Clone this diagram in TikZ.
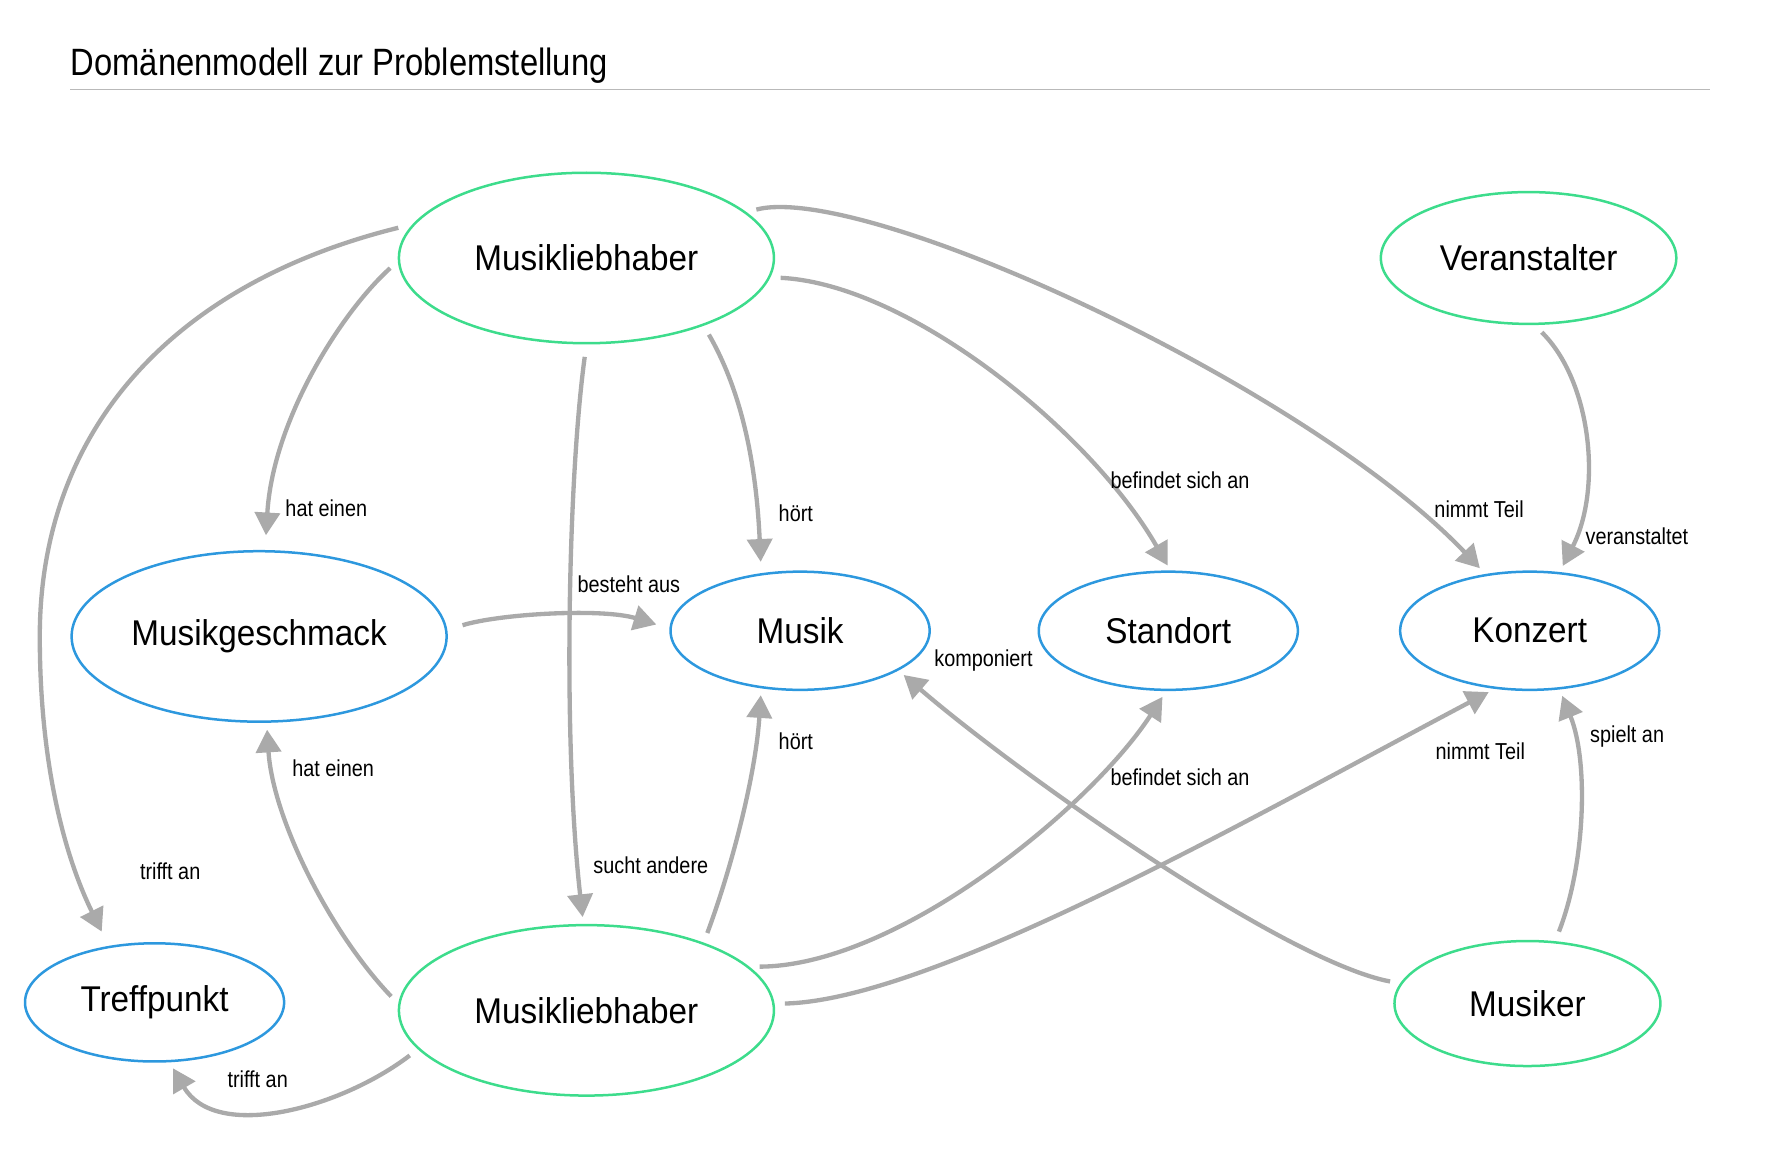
\documentclass[tikz,border=0pt]{standalone}
\usepackage{fontspec}
\setmainfont[FakeStretch=0.86]{Liberation Sans}
\newfontfamily\nodefont[FakeStretch=0.93]{Liberation Sans}
\usetikzlibrary{shapes.geometric,arrows.meta}
\definecolor{entgreen}{RGB}{61,220,140}
\definecolor{entblue}{RGB}{45,152,222}
\definecolor{edgegray}{RGB}{170,170,170}
\definecolor{rulegray}{RGB}{185,185,185}
\begin{document}
\begin{tikzpicture}[x=1pt,y=-1pt,
  ent/.style={ellipse, draw, line width=2.2pt, inner sep=0pt, font=\nodefont\fontsize{31.5}{37}\selectfont},
  actor/.style={ent, draw=entgreen},
  thing/.style={ent, draw=entblue},
  rel/.style={draw=edgegray, line width=3.8pt, -{Triangle[length=20pt,width=22pt]}, shorten <=9pt, shorten >=9pt},
  lbl/.style={anchor=west, font=\fontsize{20.3}{24}\selectfont, inner sep=0pt},
]
\useasboundingbox (0,0) rectangle (1568,1015);

% title
\node[anchor=base west, inner sep=0pt, font=\fontsize{33.5}{40}\selectfont] (title) at (62,66) {Domänenmodell zur Problemstellung};
\coordinate (ruleL) at (62,79);
\coordinate (ruleR) at (1505,79);
\draw[rulegray, line width=1.2pt] (ruleL) -- (ruleR);

% entities
\node[actor, minimum width=330pt, minimum height=150pt] (ml1) at (516,227) {Musikliebhaber};
\node[actor, minimum width=260pt, minimum height=116pt] (ver) at (1345,227) {Veranstalter};
\node[thing, minimum width=330pt, minimum height=150pt] (mg) at (228,560) {Musikgeschmack};
\node[thing, minimum width=228pt, minimum height=104pt] (mus) at (704,555) {Musik};
\node[thing, minimum width=228pt, minimum height=104pt] (std) at (1028,555) {Standort};
\node[thing, minimum width=228pt, minimum height=104pt] (kon) at (1346,555) {Konzert};
\node[thing, minimum width=228pt, minimum height=104pt] (tp) at (136,882) {Treffpunkt};
\node[actor, minimum width=330pt, minimum height=150pt] (ml2) at (516,889) {Musikliebhaber};
\node[actor, minimum width=234pt, minimum height=110pt] (mk) at (1344,883) {Musiker};

% connectors from ml1
\draw[rel, shorten >=13pt] (ml1.181) .. controls (300,275) and (240,370) .. (mg.86);
\draw[rel, shorten <=13pt, shorten >=14pt] (ml1.169) .. controls (150,250) and (35,380) .. (35,560) .. controls (35,680) and (60,760) .. (tp.129);
\draw[rel, shorten <=11pt, shorten >=6pt] (ml1.270) .. controls (500,420) and (495,650) .. (ml2.92);
\draw[rel, shorten >=10pt] (ml1.330) .. controls (650,340) and (665,400) .. (mus.124);
\draw[rel, shorten >=5pt] (ml1.354) .. controls (800,250) and (960,380) .. (std.88);
\draw[rel, shorten >=7pt] (ml1.16) .. controls (760,160) and (1150,340) .. (kon.128);
\draw[rel, shorten >=6pt] (ver.275) .. controls (1400,335) and (1410,430) .. (kon.63);
\draw[rel, shorten <=14pt, shorten >=12pt] (mg.2) .. controls (440,540) and (530,535) .. (mus.179);

% connectors from ml2
\draw[rel, shorten >=6pt] (ml2.178) .. controls (290,820) and (240,720) .. (mg.275);
\draw[rel, shorten >=6pt] (ml2.193) .. controls (300,975) and (190,1005) .. (tp.284);
\draw[rel, shorten >=6pt] (ml2.30) .. controls (645,760) and (665,680) .. (mus.236);
\draw[rel, shorten >=6pt] (ml2.15) .. controls (790,850) and (960,710) .. (std.268);
\draw[rel, shorten >=6pt] (ml2.2) .. controls (820,880) and (1100,720) .. (kon.239);
\draw[rel, shorten >=6pt] (mk.171) .. controls (1130,846) and (895,680) .. (mus.338);
\draw[rel, shorten >=6pt] (mk.66) .. controls (1395,760) and (1398,670) .. (kon.297);

% labels
\node[lbl] (l1) at (251,447) {hat einen};
\node[lbl] (l2) at (123,767) {trifft an};
\node[lbl] (l3) at (522,761) {sucht andere};
\node[lbl] (l4) at (685,452) {hört};
\node[lbl] (l5) at (977,423) {befindet sich an};
\node[lbl] (l6) at (1262,448) {nimmt Teil};
\node[lbl] (l7) at (1395,472) {veranstaltet};
\node[lbl] (l8) at (508,514) {besteht aus};
\node[lbl] (l9) at (257,676) {hat einen};
\node[lbl] (l10) at (200,950) {trifft an};
\node[lbl] (l11) at (685,652) {hört};
\node[lbl] (l12) at (977,684) {befindet sich an};
\node[lbl] (l13) at (1263,661) {nimmt Teil};
\node[lbl] (l14) at (822,581) {komponiert};
\node[lbl] (l15) at (1399,648) {spielt an};
\end{tikzpicture}
\end{document}
